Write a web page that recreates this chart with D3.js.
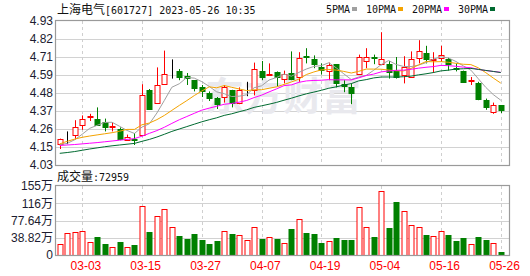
<!DOCTYPE html>
<html>
    <head>
        <title>上海电气 K线</title>
        <meta charset="UTF-8">
        <script type="text/javascript" src="https://cdn.jsdelivr.net/npm/d3@7"></script>
        <style>
            body { margin: 0; background: #fff; }
            text { font-family: "Liberation Sans", Arial, sans-serif; }
        </style>
    </head>
    <body>
        <script type="text/javascript">
            var w = 530, h = 276;

            var dates = ["02-28","03-01","03-02","03-03","03-06","03-07","03-08","03-09","03-10","03-13",
                "03-14","03-15","03-16","03-17","03-20","03-21","03-22","03-23","03-24","03-27",
                "03-28","03-29","03-30","03-31","04-03","04-04","04-06","04-07","04-10","04-11",
                "04-12","04-13","04-14","04-17","04-18","04-19","04-20","04-21","04-24","04-25",
                "04-26","04-27","04-28","05-04","05-05","05-08","05-09","05-10","05-11","05-12",
                "05-15","05-16","05-17","05-18","05-19","05-22","05-23","05-24","05-25","05-26"];

            var open = [4.16,4.18,4.22,4.28,4.33,4.32,4.30,4.27,4.255,4.185,
                4.195,4.22,4.50,4.42,4.54,4.60,4.615,4.585,4.56,4.515,
                4.48,4.45,4.455,4.50,4.42,4.495,4.50,4.615,4.595,4.61,
                4.57,4.605,4.58,4.71,4.69,4.645,4.62,4.66,4.535,4.52,
                4.60,4.68,4.705,4.665,4.66,4.615,4.595,4.585,4.695,4.73,
                4.685,4.695,4.69,4.635,4.62,4.555,4.545,4.435,4.36,4.405];
            var high = [4.195,4.24,4.31,4.34,4.35,4.39,4.32,4.295,4.265,4.22,
                4.23,4.535,4.505,4.64,4.745,4.69,4.63,4.605,4.56,4.53,
                4.49,4.455,4.53,4.50,4.515,4.55,4.67,4.68,4.665,4.615,
                4.62,4.74,4.735,4.76,4.715,4.665,4.67,4.66,4.56,4.54,
                4.72,4.76,4.72,4.86,4.68,4.705,4.71,4.74,4.81,4.775,
                4.735,4.775,4.70,4.665,4.62,4.58,4.55,4.445,4.42,4.405];
            var low = [4.13,4.16,4.19,4.25,4.305,4.285,4.24,4.24,4.185,4.18,
                4.155,4.21,4.38,4.42,4.54,4.57,4.56,4.53,4.49,4.455,
                4.43,4.38,4.42,4.39,4.41,4.46,4.465,4.56,4.59,4.52,
                4.54,4.56,4.55,4.665,4.635,4.595,4.56,4.515,4.485,4.41,
                4.595,4.635,4.66,4.655,4.57,4.57,4.54,4.58,4.665,4.665,
                4.605,4.675,4.62,4.615,4.55,4.53,4.435,4.375,4.35,4.355];
            var close = [4.19,4.18,4.27,4.32,4.335,4.285,4.27,4.275,4.195,4.205,
                4.19,4.47,4.38,4.53,4.60,4.60,4.58,4.575,4.51,4.49,
                4.45,4.41,4.52,4.42,4.50,4.495,4.63,4.58,4.60,4.58,
                4.60,4.565,4.70,4.705,4.66,4.625,4.655,4.54,4.52,4.48,
                4.705,4.705,4.70,4.695,4.61,4.58,4.645,4.695,4.74,4.69,
                4.69,4.715,4.66,4.63,4.55,4.56,4.445,4.39,4.405,4.375];
            // 成交量, 万手
            var volume = [24.8,49.5,51.8,54,29.3,40.5,24.8,17.3,29.3,17.3,
                22.5,110.3,51.8,87.8,103.5,63,42.8,36,47.3,33.8,
                24.8,31.5,53.3,47.3,45,33.8,62.3,36,40.5,36,
                27,58.5,81,49.5,47.3,27,31.5,38.3,33.8,33.8,
                108,63,40.5,144,60.8,119.3,99,67.5,63,45,
                42.8,54,45,31.5,38.3,24.8,40.5,33.8,27,7.2959];

            // moving averages before a full window exists
            var ma5Head = [4.157,4.165,4.188,4.222];
            var ma10Head = [4.162,4.178,4.192,4.203,4.211,4.218,4.225,4.232,4.241];
            var ma20Head = [4.152,4.155,4.158,4.162,4.166,4.17,4.175,4.18,4.185,4.19,
                4.195,4.21,4.228,4.245,4.266,4.29,4.313,4.333,4.353];
            var ma30Head = [4.103,4.108,4.114,4.122,4.13,4.137,4.144,4.15,4.155,4.16,
                4.165,4.178,4.19,4.205,4.222,4.24,4.255,4.27,4.285,4.30,
                4.313,4.325,4.34,4.35,4.363,4.375,4.39,4.40,4.41];

            var priceTicks = ["4.03","4.15","4.26","4.37","4.48","4.59","4.71","4.82","4.93"];
            var volTicks = ["0","38.82万","77.64万","116万","155万"];
            var xTicks = ["03-03","03-15","03-27","04-07","04-19","05-04","05-16","05-26"];
            var maNames = ["5PMA","10PMA","20PMA","30PMA"];
            var maColors = ["#a0a0a0","#f4a300","#ff00ff","#006a30"];

            var red = "#ff0000", green = "#008000";

            function ma(n, head) {
                return close.map(function(c, i) {
                    if (i < n - 1) return head[i];
                    return d3.mean(close.slice(i - n + 1, i + 1));
                });
            }
            var maData = [ma(5, ma5Head), ma(10, ma10Head), ma(20, ma20Head), ma(30, ma30Head)];

            var svg = d3.select("body").append("svg")
                    .attr("width", w)
                    .attr("height", h);

            var left = 56, right = 509;
            var x = d3.scaleBand().domain(dates).range([left, 504.5]);
            var y = d3.scaleLinear().domain([4.03, 4.93]).range([165, 21]);
            var yv = d3.scaleLinear().domain([0, 155.28]).range([255, 186]);

            function cx(d) {
                return Math.round(x(d) + x.bandwidth() / 2) + 0.5;
            }

            // grid
            var priceVals = priceTicks.map(function(t, k) { return 4.03 + k * 0.9 / 8; });
            svg.append("g").selectAll("line")
                    .data(priceVals.slice(1, 8))
                    .enter().append("line")
                    .attr("x1", left).attr("x2", right)
                    .attr("y1", function(d) { return Math.round(y(d)) + 0.5; })
                    .attr("y2", function(d) { return Math.round(y(d)) + 0.5; })
                    .style("stroke", "#d2d2d2");
            var volVals = volTicks.map(function(t, k) { return k * 38.82; });
            svg.append("g").selectAll("line")
                    .data(volVals.slice(1, 4))
                    .enter().append("line")
                    .attr("x1", left).attr("x2", right)
                    .attr("y1", function(d) { return Math.round(yv(d)) + 0.5; })
                    .attr("y2", function(d) { return Math.round(yv(d)) + 0.5; })
                    .style("stroke", "#d2d2d2");
            [[21, 165], [186, 255]].forEach(function(r) {
                svg.append("g").selectAll("line")
                        .data(xTicks)
                        .enter().append("line")
                        .attr("x1", cx).attr("x2", cx)
                        .attr("y1", r[0]).attr("y2", r[1])
                        .style("stroke", "#cfcfcf")
                        .style("stroke-dasharray", "3,3");
            });

            // watermark
            svg.append("text")
                    .attr("x", 205).attr("y", 110)
                    .style("font-family", "'Noto Sans CJK SC'")
                    .style("font-size", "39px")
                    .style("font-weight", "bold")
                    .style("fill", "#e9e9ee")
                    .text("东方财富");

            var line = d3.line()
                    .x(function(d, i) { return x(dates[i]) + x.bandwidth() / 2; })
                    .y(function(d) { return y(d); });

            // candles
            var candles = svg.append("g").selectAll("g")
                    .data(dates)
                    .enter().append("g");
            function col(i) {
                return close[i] > open[i] ? red : (close[i] < open[i] ? green : "#000");
            }
            candles.append("line")
                    .attr("x1", cx).attr("x2", cx)
                    .attr("y1", function(d, i) { return y(high[i]); })
                    .attr("y2", function(d, i) { return y(low[i]); })
                    .style("stroke", function(d, i) { return col(i); });
            candles.append("rect")
                    .attr("x", function(d) { return cx(d) - 2.5; })
                    .attr("width", 5)
                    .attr("y", function(d, i) { return Math.round(y(Math.max(open[i], close[i]))) + 0.5; })
                    .attr("height", function(d, i) {
                        return Math.max(0, Math.round(y(Math.min(open[i], close[i])) - y(Math.max(open[i], close[i]))));
                    })
                    .style("fill", function(d, i) { return close[i] > open[i] ? "#fff" : col(i); })
                    .style("stroke", function(d, i) { return col(i); });

            // moving averages
            maData.forEach(function(m, k) {
                svg.append("path")
                        .attr("d", line(m))
                        .style("fill", "none")
                        .style("stroke", maColors[k])
                        .style("stroke-width", 1);
            });

            // volume bars
            svg.append("g").selectAll("rect")
                    .data(dates)
                    .enter().append("rect")
                    .attr("x", function(d) { return cx(d) - 2.5; })
                    .attr("width", 5)
                    .attr("y", function(d, i) { return Math.round(yv(volume[i])) + 0.5; })
                    .attr("height", function(d, i) { return Math.max(1, Math.round(255 - yv(volume[i]))); })
                    .style("fill", function(d, i) { return close[i] >= open[i] ? "#fff" : green; })
                    .style("stroke", function(d, i) { return close[i] >= open[i] ? red : green; });

            // frames
            svg.append("rect").attr("x", left - 0.5).attr("y", 20.5)
                    .attr("width", right - left + 1).attr("height", 145)
                    .style("fill", "none").style("stroke", "#9a9a9a").style("stroke-width", 1.2);
            svg.append("rect").attr("x", left - 0.5).attr("y", 185.5)
                    .attr("width", right - left + 1).attr("height", 70)
                    .style("fill", "none").style("stroke", "#9a9a9a").style("stroke-width", 1.2);

            // axes
            var ya = svg.append("g")
                    .attr("transform", "translate(" + (left - 3) + ",0)")
                    .call(d3.axisLeft(y).tickValues(priceVals)
                        .tickFormat(function(d, k) { return priceTicks[k]; })
                        .tickSize(0).tickPadding(0));
            var yva = svg.append("g")
                    .attr("transform", "translate(" + (left - 3) + ",0)")
                    .call(d3.axisLeft(yv).tickValues(volVals)
                        .tickFormat(function(d, k) { return volTicks[k]; })
                        .tickSize(0).tickPadding(0));
            var xa = svg.append("g")
                    .attr("transform", "translate(" + x.bandwidth() / 2 + ",256)")
                    .call(d3.axisBottom(x).tickValues(xTicks).tickSize(0).tickPadding(5));
            [ya, yva, xa].forEach(function(a) {
                a.select(".domain").remove();
                a.selectAll("text").style("font-family", "'Liberation Sans', 'Noto Sans CJK SC'")
                        .style("font-size", "12px").style("fill", "#1c1c30");
            });
            xa.selectAll("text").style("fill", red);

            // title
            var title = svg.append("text").attr("x", 57).attr("y", 14)
                    .style("font-size", "12px").style("fill", "#111");
            title.append("tspan").style("font-family", "'Noto Sans CJK SC'").text("上海电气");
            title.append("tspan").style("font-family", "'DejaVu Sans Mono'").style("font-size", "10px")
                    .text("[601727] 2023-05-26 10:35");

            var vt = svg.append("text").attr("x", 57).attr("y", 181)
                    .style("font-size", "12px").style("fill", "#111");
            vt.append("tspan").style("font-family", "'Noto Sans CJK SC'").text("成交量");
            vt.append("tspan").style("font-family", "'DejaVu Sans Mono'").style("font-size", "10px")
                    .text(":" + Math.round(volume[volume.length - 1] * 10000));

            // legend
            var lx = 326;
            maNames.forEach(function(n, k) {
                svg.append("text").attr("x", lx).attr("y", 13)
                        .style("font-family", "'DejaVu Sans Mono'").style("font-size", "10px")
                        .style("fill", "#111").text(n);
                svg.append("rect").attr("x", lx + n.length * 6 + 2).attr("y", 7)
                        .attr("width", 5).attr("height", 4)
                        .style("fill", maColors[k]);
                lx += n.length * 6 + 16;
            });
        </script>
    </body>
</html>
